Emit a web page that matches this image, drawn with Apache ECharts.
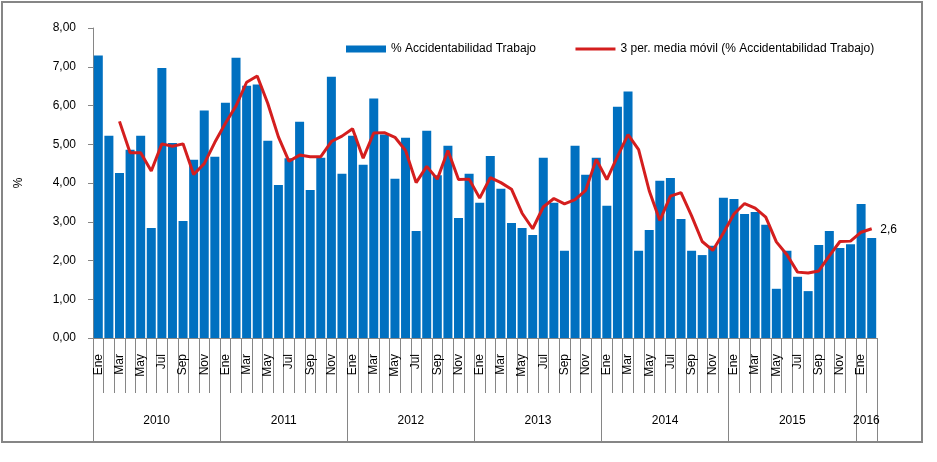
<!DOCTYPE html>
<html>
<head>
<meta charset="utf-8">
<script src="https://cdn.jsdelivr.net/npm/echarts@6/dist/echarts.min.js"></script>
<style>
  html, body { margin: 0; padding: 0; background: #fff; }
  #wrap { position: relative; width: 937px; height: 462px; }
  #chart { position: absolute; left: 0; top: 0; width: 937px; height: 462px; }
  #frame { position: absolute; left: 1px; top: 1px; width: 918px; height: 438px; border: 2px solid #868686; pointer-events: none; }
</style>
</head>
<body>
<div id="wrap"><div id="chart"></div><div id="frame"></div></div>
<script>
// ---- data ----
const monthNames = ['Ene','Feb','Mar','Abr','May','Jun','Jul','Ago','Sep','Oct','Nov','Dic'];
const years = ['2010','2011','2012','2013','2014','2015','2016'];
const monthsPerYear = [12, 12, 12, 12, 12, 12, 2];
const yTicks = [0, 1, 2, 3, 4, 5, 6, 7, 8];

const accidentabilidad = [
  7.29, 5.22, 4.26, 4.86, 5.22, 2.84, 6.97, 5.03, 3.02, 4.60, 5.87, 4.68,
  6.07, 7.23, 6.51, 6.54, 5.09, 3.95, 4.64, 5.58, 3.82, 4.65, 6.74, 4.24,
  5.22, 4.47, 6.18, 5.25, 4.11, 5.17, 2.76, 5.35, 4.20, 4.96, 3.10, 4.24,
  3.49, 4.70, 3.85, 2.97, 2.84, 2.66, 4.65, 3.49, 2.25, 4.96, 4.21, 4.65,
  3.41, 5.97, 6.36, 2.25, 2.79, 4.06, 4.13, 3.07, 2.25, 2.14, 2.38, 3.62,
  3.59, 3.20, 3.25, 2.92, 1.27, 2.25, 1.58, 1.21, 2.40, 2.76, 2.32, 2.42,
  3.46, 2.58
];

const mediaMovil = [
  null, null, 5.59, 4.78, 4.78, 4.31, 5.01, 4.95, 5.01, 4.22, 4.50, 5.05,
  5.54, 5.99, 6.60, 6.76, 6.05, 5.19, 4.56, 4.72, 4.68, 4.68, 5.07, 5.21,
  5.40, 4.64, 5.29, 5.30, 5.18, 4.84, 4.01, 4.43, 4.10, 4.84, 4.09, 4.10,
  3.61, 4.14, 4.01, 3.84, 3.22, 2.82, 3.38, 3.60, 3.46, 3.57, 3.81, 4.61,
  4.09, 4.68, 5.25, 4.86, 3.80, 3.03, 3.66, 3.75, 3.15, 2.49, 2.26, 2.71,
  3.20, 3.47, 3.35, 3.12, 2.48, 2.15, 1.70, 1.68, 1.73, 2.12, 2.49, 2.50,
  2.73, 2.82
];

const barName = '% Accidentabilidad Trabajo';
const lineName = '3 per. media móvil (% Accidentabilidad Trabajo)';

// ---- build categories ----
const monthCats = [];
const yearCats = [];
const yearStart = [];
const yearLabelIdx = [];
let k = 0;
years.forEach((y, yi) => {
  yearStart.push(k);
  const n = monthsPerYear[yi];
  yearLabelIdx.push(k + Math.floor(n / 2));
  for (let m = 0; m < n; m++) {
    monthCats.push(monthNames[m]);
    yearCats.push(y);
    k++;
  }
});
const lastIdx = accidentabilidad.length - 1;
const fmt = (v, d) => v.toFixed(d).replace('.', ',');

const font = 'Liberation Sans';
const axisGray = '#868686';

const chart = echarts.init(document.getElementById('chart'), null, { renderer: 'canvas' });
chart.setOption({
  animation: false,
  backgroundColor: '#ffffff',
  textStyle: { fontFamily: font, color: '#000' },
  legend: {
    left: 341, top: 38,
    itemWidth: 40, itemHeight: 7, itemGap: 38,
    textStyle: { fontFamily: font, fontSize: 12, color: '#000' },
    data: [
      { name: barName, icon: 'rect' },
      { name: lineName, itemStyle: { opacity: 0, borderWidth: 0 }, lineStyle: { width: 3 } }
    ]
  },
  grid: { left: 93, right: 60, top: 28, bottom: 124, containLabel: false },
  xAxis: [
    {
      type: 'category',
      data: monthCats,
      boundaryGap: true,
      position: 'bottom',
      axisLine: { show: true, lineStyle: { color: axisGray, width: 1 } },
      axisTick: { show: true, interval: 0, length: 55, lineStyle: { color: axisGray } },
      axisLabel: {
        interval: 1, rotate: 90, margin: 16,
        fontFamily: font, fontSize: 12, color: '#000'
      },
      splitLine: { show: false }
    },
    {
      type: 'category',
      data: yearCats,
      boundaryGap: true,
      position: 'bottom',
      axisLine: { show: false },
      axisTick: {
        show: true, length: 104, lineStyle: { color: axisGray },
        interval: (i) => yearStart.indexOf(i) >= 0
      },
      axisLabel: {
        interval: (i) => yearLabelIdx.indexOf(i) >= 0,
        margin: 77, fontFamily: font, fontSize: 12, color: '#000',
        formatter: (v) => '{y|' + v + '}',
        rich: { y: { fontFamily: font, fontSize: 12, color: '#000', padding: [0, 10.6, 0, 0] } }
      },
      splitLine: { show: false }
    }
  ],
  yAxis: {
    type: 'value',
    min: yTicks[0], max: yTicks[yTicks.length - 1], interval: 1,
    name: '%', nameLocation: 'middle', nameGap: 68, nameRotate: 90,
    nameTextStyle: { fontFamily: font, fontSize: 12, color: '#000' },
    axisLine: { show: true, lineStyle: { color: axisGray, width: 1 } },
    axisTick: { show: true, length: 5, lineStyle: { color: axisGray } },
    axisLabel: { margin: 17, fontFamily: font, fontSize: 12, color: '#000', formatter: (v) => fmt(v, 2) },
    splitLine: { show: false }
  },
  series: [
    {
      name: barName,
      type: 'bar',
      xAxisIndex: 0,
      barCategoryGap: '15%',
      itemStyle: { color: '#0070C0' },
      data: accidentabilidad.map((v, i) => i === lastIdx ? {
        value: v,
        label: {
          show: true, position: ['100%', -14], offset: [4, 0],
          fontFamily: font, fontSize: 12, color: '#000',
          formatter: (p) => fmt(p.value, 1)
        }
      } : v)
    },
    {
      name: lineName,
      type: 'line',
      xAxisIndex: 0,
      symbol: 'none',
      smooth: false,
      lineStyle: { color: '#D41E1E', width: 3 },
      itemStyle: { color: '#D41E1E' },
      data: mediaMovil
    }
  ]
});
</script>
</body>
</html>
